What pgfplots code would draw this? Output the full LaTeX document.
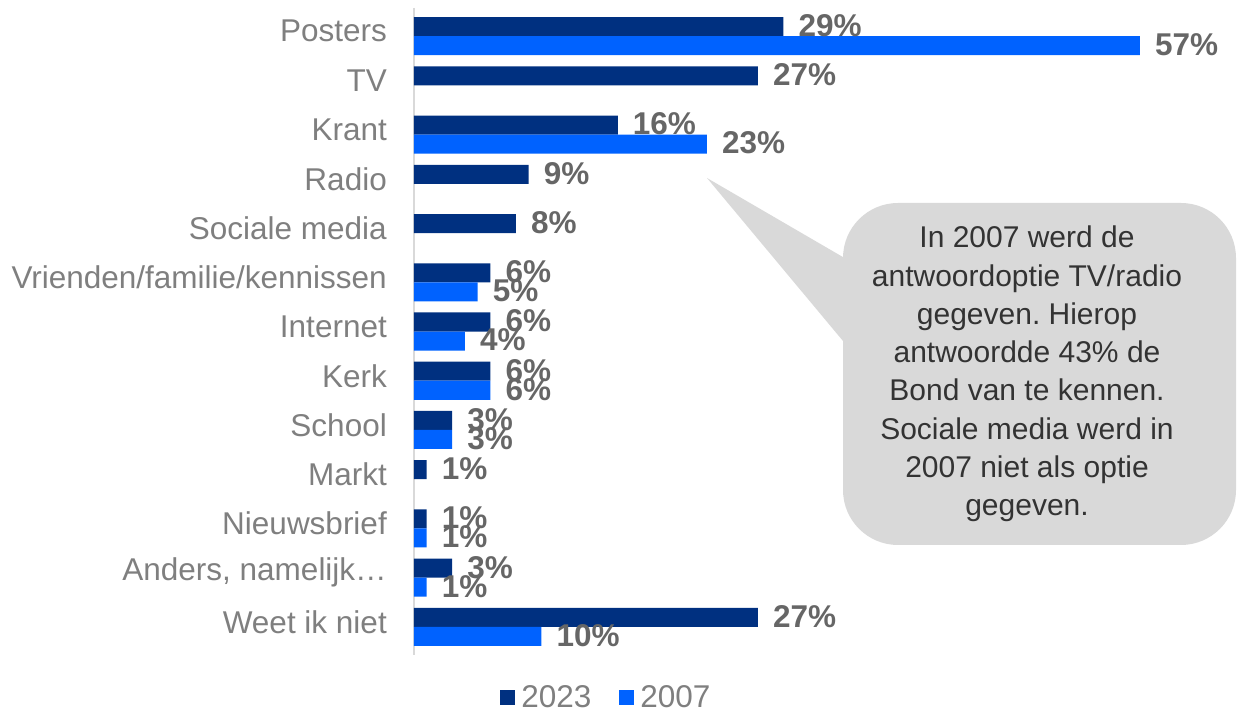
\documentclass[border=0pt]{standalone}
\usepackage{pgfplots}
\pgfplotsset{compat=1.18}
\usepackage{fontspec}
\setmainfont{Liberation Sans}
\frenchspacing
\definecolor{navy}{RGB}{0,48,128}
\definecolor{brightblue}{RGB}{0,98,255}
\definecolor{lblgrey}{RGB}{102,102,102}
\definecolor{catgrey}{RGB}{127,127,127}
\definecolor{calloutfill}{RGB}{217,217,217}
\definecolor{callouttext}{RGB}{51,51,51}
\begin{document}
\begin{tikzpicture}[x=1pt,y=1pt]
\path (0,0) rectangle (1237,715);
\begin{axis}[
  at={(414pt,60pt)}, anchor=south west,
  scale only axis, width=815pt, height=647pt,
  /pgf/number format/assume math mode=true,
  xbar, bar width=0.386,
  xmin=0, xmax=64,
  ymin=-0.57, ymax=12.57, y dir=reverse,
  axis x line=none, axis y line*=left,
  y axis line style={draw=black!15, line width=1.5pt, -},
  ytick={0,...,12},
  yticklabels={Posters,TV,Krant,Radio,Sociale media,Vrienden/familie/kennissen,Internet,Kerk,School,Markt,Nieuwsbrief,{Anders, namelijk…},Weet ik niet},
  major tick length=0pt,
  yticklabel style={font=\fontsize{31.5}{36}\selectfont, text=catgrey, inner sep=0pt, xshift=-27pt, yshift=5pt},
  nodes near coords={\pgfmathprintnumber{\pgfplotspointmeta}\%},
  every node near coord/.append style={font=\fontsize{31.5}{36}\selectfont\bfseries, text=lblgrey, anchor=west, inner sep=0pt, xshift=15pt, yshift=1pt},
  legend style={at={(axis description cs:0.236,-0.066)}, anchor=center, draw=none, fill=none,
    font=\fontsize{31.5}{36}\selectfont, text=catgrey, legend columns=2,
    /tikz/every even column/.append style={column sep=26pt},
    /tikz/every odd column/.append style={column sep=4pt}},
  legend image code/.code={\fill[#1] (0pt,-7.5pt) rectangle (15pt,7.5pt);},
]
\addplot[fill=navy, draw=none, bar shift=-0.193] coordinates {
  (29,0) (27,1) (16,2) (9,3) (8,4) (6,5) (6,6) (6,7) (3,8) (1,9) (1,10) (3,11) (27,12)};
\addplot[fill=brightblue, draw=none, bar shift=0.193] coordinates {
  (57,0) (23,2) (5,5) (4,6) (6,7) (3,8) (1,10) (1,11) (10,12)};
\legend{2023,2007}
\end{axis}
\fill[calloutfill] (848,455) -- (707,537) -- (848,368) -- cycle;
\fill[calloutfill, rounded corners=55pt] (843,170) rectangle (1236,512);
\node[align=center, font=\fontsize{30}{38.3}\selectfont, text=callouttext] at (1027,341)
  {In 2007 werd de\\antwoordoptie TV/radio\\gegeven. Hierop\\antwoordde 43\% de\\Bond van te kennen.\\Sociale media werd in\\2007 niet als optie\\gegeven.};
\pgfresetboundingbox
\path (0,0) rectangle (1237,715);
\end{tikzpicture}
\end{document}
